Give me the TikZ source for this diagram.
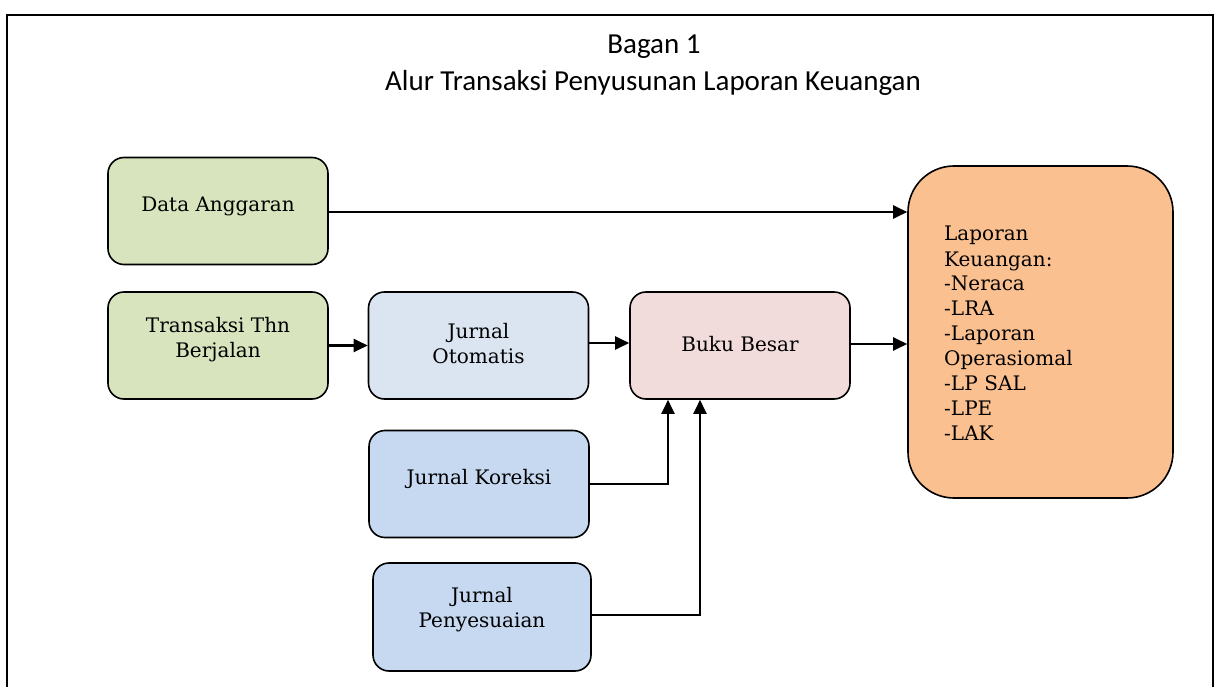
\documentclass[tikz,border=0pt]{standalone}
\usepackage{fontspec}
\setmainfont{DejaVu Serif}
\newfontfamily\titlefont{Carlito}
\usetikzlibrary{arrows.meta,calc}
\definecolor{cgreen}{HTML}{D7E4BD}
\definecolor{cgrey}{HTML}{DBE5F1}
\definecolor{cpink}{HTML}{F2DCDB}
\definecolor{cblue}{HTML}{C6D9F1}
\definecolor{corange}{HTML}{FAC090}
\tikzset{
  box/.style={draw=black, line width=1.6pt, rounded corners=16pt, minimum width=220pt, minimum height=107pt, inner sep=0pt},
  txt/.style={font=\fontsize{20}{25}\selectfont, align=center, inner sep=0pt},
  conn/.style={line width=2.3pt, -{Triangle[length=14pt,width=13pt]}},
  ttl/.style={font=\titlefont\fontsize{29}{37}\selectfont, inner sep=0pt, anchor=base}
}
\begin{document}
\begin{tikzpicture}[x=1pt,y=-1pt]
\useasboundingbox (0,0) rectangle (1216,687);
\fill[white] (0,0) rectangle (1216,687);
\draw[line width=2pt] (7,687) -- (7,15) -- (1213,15) -- (1213,687);
\node[ttl] (t1) at (654,54) {Bagan 1};
\node[ttl] (t2) at (653,91) {Alur Transaksi Penyusunan Laporan Keuangan};
% boxes
\node[box, fill=cgreen] (da) at (218,211) {};
\node[txt] (dat) at (218,206) {Data Anggaran};
\node[box, fill=cgreen] (tr) at (218,345.5) {};
\node[txt] (trt) at (218,339.5) {Transaksi Thn\\Berjalan};
\node[box, fill=cgrey] (jo) at (478.5,345.5) {};
\node[txt] (jot) at (478.5,343.5) {Jurnal\\Otomatis};
\node[box, fill=cpink] (bb) at (740,345.5) {};
\node[txt] (bbt) at (740,344) {Buku Besar};
\node[box, fill=cblue] (jk) at (479,484) {};
\node[txt] (jkt) at (479,479) {Jurnal Koreksi};
\node[box, fill=cblue, minimum width=218pt, minimum height=108pt] (jp) at (482,617) {};
\node[txt] (jpt) at (482,609.5) {Jurnal\\Penyesuaian};
\node[box, fill=corange, rounded corners=46pt, minimum width=265pt, minimum height=332pt] (lk) at (1040.5,332) {};
\node[txt, align=left, anchor=base west, text width=220pt] (lkt) at (944,241) {Laporan\\Keuangan:\\-Neraca\\-LRA\\-Laporan\\Operasiomal\\-LP SAL\\-LPE\\-LAK};
% connectors
\coordinate (c1) at ($(bb.south)+(-72,0)$);
\coordinate (c2) at ($(bb.south)+(-40,0)$);
\draw[conn] (da.east |- 0,212) -- (lk.west |- 0,212);
\draw[conn] (tr.east) -- (jo.west);
\draw[conn] (jo.east |- 0,343) -- (bb.west |- 0,343);
\draw[conn] (bb.east |- 0,344) -- (lk.west |- 0,344);
\draw[conn] (jk.east) -| (c1);
\draw[conn] (jp.east |- 0,615) -| (c2);
\end{tikzpicture}
\end{document}
